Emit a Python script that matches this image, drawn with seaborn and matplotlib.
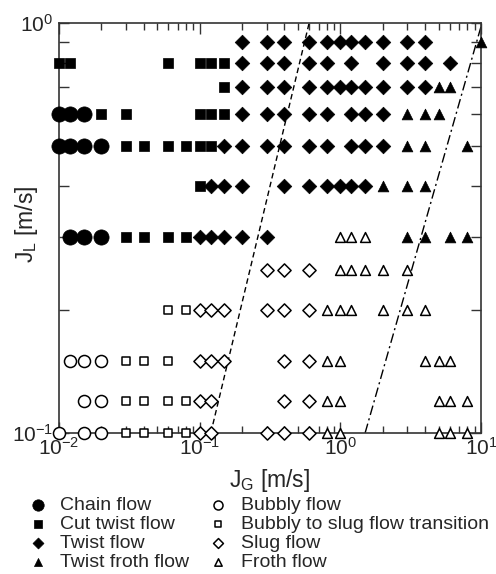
import matplotlib
matplotlib.use("Agg")
import matplotlib.pyplot as plt
from matplotlib.ticker import NullFormatter
import pandas as pd
import seaborn as sns

sns.set_style("ticks")
plt.rcParams['font.family'] = ['Liberation Sans', 'DejaVu Sans']
plt.rcParams['mathtext.fontset'] = 'custom'
plt.rcParams['mathtext.rm'] = 'Liberation Sans'
plt.rcParams['mathtext.it'] = 'Liberation Sans:italic'
plt.rcParams['mathtext.default'] = 'regular'

# --- data: for each regime, the J_L rows and the J_G values observed on each row
chain_jl = [0.6, 0.5, 0.3]
chain_jg = [[0.01, 0.012, 0.015],
            [0.01, 0.012, 0.015, 0.02],
            [0.012, 0.015, 0.02]]

cut_jl = [0.8, 0.7, 0.6, 0.5, 0.4, 0.3]
cut_jg = [[0.01, 0.012, 0.06, 0.1, 0.12, 0.15],
          [0.15],
          [0.02, 0.03, 0.1, 0.12, 0.15],
          [0.03, 0.04, 0.06, 0.08, 0.1, 0.12],
          [0.1],
          [0.03, 0.04, 0.06, 0.08]]

twist_jl = [0.9, 0.8, 0.7, 0.6, 0.5, 0.4, 0.3]
twist_jg = [[0.2, 0.3, 0.4, 0.6, 0.8, 1.0, 1.2, 1.5, 2, 3, 4],
            [0.2, 0.3, 0.4, 0.6, 0.8, 1.2, 2, 3, 4, 6],
            [0.2, 0.3, 0.4, 0.6, 0.8, 1.0, 1.2, 1.5, 2, 3, 4],
            [0.2, 0.3, 0.4, 0.6, 0.8, 1.2, 1.5, 2],
            [0.15, 0.2, 0.3, 0.4, 0.6, 0.8, 1.2, 1.5, 2],
            [0.12, 0.15, 0.2, 0.4, 0.6, 0.8, 1.0, 1.2, 1.5],
            [0.1, 0.12, 0.15, 0.2, 0.3]]

tfroth_jl = [0.9, 0.7, 0.6, 0.5, 0.4, 0.3]
tfroth_jg = [[10], [5, 6], [3, 4, 5], [3, 4, 8], [2, 3, 4], [3, 4, 6, 8]]

bubbly_jl = [0.15, 0.12, 0.1]
bubbly_jg = [[0.012, 0.015, 0.02], [0.015, 0.02], [0.01, 0.015, 0.02]]

b2s_jl = [0.2, 0.15, 0.12, 0.1]
b2s_jg = [[0.06, 0.08],
          [0.03, 0.04, 0.06],
          [0.03, 0.04, 0.06, 0.08],
          [0.03, 0.04, 0.06, 0.08]]

slug_jl = [0.25, 0.2, 0.15, 0.12, 0.1]
slug_jg = [[0.3, 0.4, 0.6],
           [0.1, 0.12, 0.15, 0.3, 0.4, 0.6],
           [0.1, 0.12, 0.15, 0.4, 0.6],
           [0.1, 0.12, 0.4, 0.6],
           [0.1, 0.12, 0.3, 0.4, 0.6]]

froth_jl = [0.3, 0.25, 0.2, 0.15, 0.12, 0.1]
froth_jg = [[1.0, 1.2, 1.5],
            [1.0, 1.2, 1.5, 2, 3],
            [0.8, 1.0, 1.2, 2, 3, 4],
            [0.8, 1.0, 4, 5, 6],
            [0.8, 1.0, 5, 6, 8],
            [0.8, 1.0, 5, 6, 8]]

# transition boundaries
bnd1_jg = [0.12, 0.6]
bnd1_jl = [0.1, 1.0]
bnd2_jg = [1.5, 10.0]
bnd2_jl = [0.1, 0.98]


def rows_to_df(jl_rows, jg_rows, name):
    recs = []
    for jl, jgs in zip(jl_rows, jg_rows):
        for jg in jgs:
            recs.append({'JG': jg, 'JL': jl, 'Regime': name})
    return pd.DataFrame(recs)


# (name, jl, jg, marker, size, filled)
regimes = [
    ('Chain flow', chain_jl, chain_jg, 'o', 120, True),
    ('Cut twist flow', cut_jl, cut_jg, 's', 60, True),
    ('Twist flow', twist_jl, twist_jg, 'D', 55, True),
    ('Twist froth flow', tfroth_jl, tfroth_jg, '^', 60, True),
    ('Bubbly flow', bubbly_jl, bubbly_jg, 'o', 75, False),
    ('Bubbly to slug flow transition', b2s_jl, b2s_jg, 's', 40, False),
    ('Slug flow', slug_jl, slug_jg, 'D', 45, False),
    ('Froth flow', froth_jl, froth_jg, '^', 50, False),
]

fig = plt.figure(figsize=(4.96, 5.74), dpi=100)
ax = fig.add_axes([59 / 496, 1 - 433 / 574, 422 / 496, 410 / 574])

for name, jl, jg, mk, s, filled in regimes:
    d = rows_to_df(jl, jg, name)
    sns.scatterplot(data=d, x='JG', y='JL', ax=ax, marker=mk, s=s,
                    facecolor='black' if filled else 'white',
                    edgecolor='black', linewidth=1.1 if not filled else 0.5,
                    label=name, clip_on=False, zorder=3)

sns.lineplot(x=bnd1_jg, y=bnd1_jl, ax=ax, color='black', lw=1.0,
             linestyle=(0, (4, 2.5)), sort=False)
sns.lineplot(x=bnd2_jg, y=bnd2_jl, ax=ax, color='black', lw=1.0,
             linestyle=(0, (7, 2.5, 1.5, 2.5)), sort=False)

ax.set_xscale('log')
ax.set_yscale('log')
ax.set_xlim(0.01, 10)
ax.set_ylim(0.1, 1)
ax.xaxis.set_minor_formatter(NullFormatter())
ax.yaxis.set_minor_formatter(NullFormatter())

ax.tick_params(which='both', direction='in', top=True, right=True,
               labelsize=15, width=1.0, color='#333333')
ax.tick_params(axis='x', which='major', length=8)
ax.tick_params(axis='x', which='minor', length=5)
ax.tick_params(axis='y', which='both', length=7)
ax.tick_params(axis='x', pad=3)
ax.tick_params(axis='y', pad=4)
for sp in ax.spines.values():
    sp.set_linewidth(1.2)
    sp.set_color('#333333')

ax.set_xlabel('J$_\\mathrm{G}$ [m/s]', fontsize=16.5, labelpad=6)
ax.set_ylabel('J$_\\mathrm{L}$ [m/s]', fontsize=16.5)
ax.yaxis.set_label_coords(-0.045, 0.51)

handles, labels = ax.get_legend_handles_labels()
ax.get_legend().remove()
fig.legend(handles, labels, loc='upper left', bbox_to_anchor=(28 / 496, 1 - 496 / 574),
           ncol=2, frameon=False, fontsize=14, markerscale=0.75,
           handlelength=1.0, handletextpad=0.65, columnspacing=1.0,
           labelspacing=0.08, borderpad=0, borderaxespad=0)

fig.savefig('out.png', dpi=100)
